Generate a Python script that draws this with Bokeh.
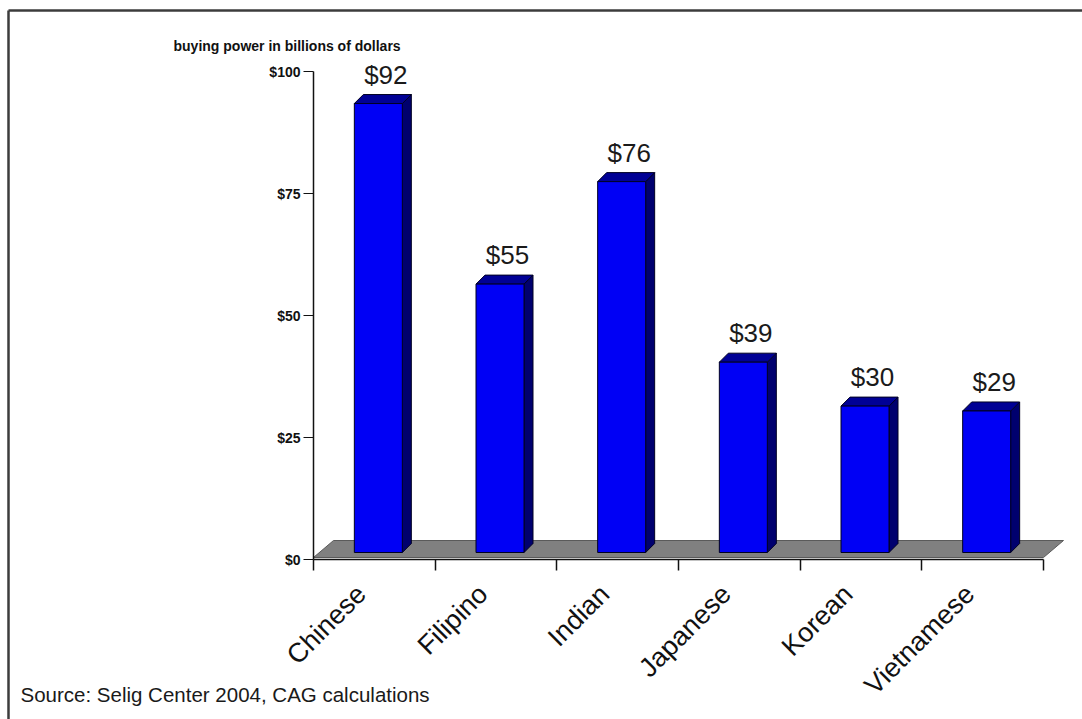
import math
from bokeh.plotting import figure
from bokeh.models import Range1d, FixedTicker, LinearAxis, Label, ColumnDataSource
from bokeh.core.properties import value
from bokeh.embed import file_html
from bokeh.resources import INLINE

# ---------------- data ----------------
categories = ["Chinese", "Filipino", "Indian", "Japanese", "Korean", "Vietnamese"]
buying_power = [92, 55, 76, 39, 30, 29]
value_labels = ["$92", "$55", "$76", "$39", "$30", "$29"]
y_ticks = [0, 25, 50, 75, 100]
y_tick_labels = ["$0", "$25", "$50", "$75", "$100"]
y_title = "buying power in billions of dollars"
source_note = "Source: Selig Center 2004, CAG calculations"

# ---------------- layout constants (pixels) ----------------
W, H = 1082, 719
X0_PX, XN_PX = 313, 1043      # pixel of x=0 and x=len(categories)
Y0_PX, Y100_PX = 559, 71      # pixel of $0 and $100

n = len(categories)
px_x = (XN_PX - X0_PX) / n
px_y = (Y0_PX - Y100_PX) / 100.0


def dx(p):
    return p / px_x


def dy(p):
    return p / px_y


def sx(px):  # canvas pixel -> data x
    return (px - X0_PX) / px_x


def sy(px):  # canvas pixel -> data y
    return (Y0_PX - px) / px_y


p = figure(width=W, height=H, output_backend="svg", toolbar_location=None,
           x_range=Range1d(sx(0), sx(W)),
           y_range=Range1d(sy(H), sy(0)),
           x_axis_type=None, y_axis_type=None,
           min_border=0, min_border_left=0, min_border_right=0,
           min_border_top=0, min_border_bottom=0)
p.outline_line_color = None
p.background_fill_color = "white"
p.border_fill_color = "white"

FONT = "Liberation Sans"

# ---------------- axes (placed inside the frame at x=0 / y=0) ----------------
yaxis = LinearAxis(ticker=FixedTicker(ticks=y_ticks), fixed_location=0,
                   major_label_overrides={t: l for t, l in zip(y_ticks, y_tick_labels)})
yaxis.axis_line_color = None
yaxis.major_tick_out = 10
yaxis.major_tick_in = 0
yaxis.major_tick_line_color = "#111111"
yaxis.major_tick_line_width = 1.2
yaxis.minor_tick_line_color = None
yaxis.major_label_text_font = FONT
yaxis.major_label_text_font_size = "14px"
yaxis.major_label_text_font_style = "bold"
yaxis.major_label_text_color = "#111111"
yaxis.major_label_standoff = 3
p.add_layout(yaxis, "left")

centers = [i + 0.5 for i in range(n)]
bounds = list(range(n + 1))
LABEL_SHIFT = 13  # px: rotated labels sit a little left of the slot centre
label_pos = [c - dx(LABEL_SHIFT) for c in centers]
xaxis = LinearAxis(ticker=FixedTicker(ticks=label_pos, minor_ticks=bounds), fixed_location=0,
                   major_label_overrides={c: lab for c, lab in zip(label_pos, categories)})
xaxis.axis_line_color = None
xaxis.major_tick_line_color = None
xaxis.minor_tick_out = 11
xaxis.minor_tick_in = 0
xaxis.minor_tick_line_color = "#111111"
xaxis.minor_tick_line_width = 1.5
xaxis.major_label_orientation = math.pi / 4
xaxis.major_label_text_font = FONT
xaxis.major_label_text_font_size = "27px"
xaxis.major_label_text_color = "#111111"
xaxis.major_label_standoff = 19
p.add_layout(xaxis, "below")

# ---------------- floor ----------------
FLOOR_DX, FLOOR_DY, FLOOR_FRONT = 20, 17, 2
p.patch([bounds[0], bounds[-1], bounds[-1] + dx(FLOOR_DX), bounds[0] + dx(FLOOR_DX)],
        [dy(FLOOR_FRONT), dy(FLOOR_FRONT), dy(FLOOR_FRONT + FLOOR_DY), dy(FLOOR_FRONT + FLOOR_DY)],
        fill_color="#808080", line_color="#5a5a5a", line_width=1)

# axis lines
p.segment(x0=[bounds[0], bounds[0]], y0=[y_ticks[0], y_ticks[0]],
          x1=[bounds[-1], bounds[0]], y1=[y_ticks[0], y_ticks[-1]],
          line_color="#111111", line_width=1.5)

# ---------------- 3D bars ----------------
BAR_W, BAR_SHIFT, BAR_LIFT, DEPTH_X, DEPTH_Y = 48, 4, 7, 9, 9
lefts = [c + dx(BAR_SHIFT) - dx(BAR_W) / 2 for c in centers]
rights = [c + dx(BAR_SHIFT) + dx(BAR_W) / 2 for c in centers]
bottoms = [dy(BAR_LIFT)] * n
tops = [v + dy(BAR_LIFT) for v in buying_power]

top_xs = [[l, r, r + dx(DEPTH_X), l + dx(DEPTH_X)] for l, r in zip(lefts, rights)]
top_ys = [[t, t, t + dy(DEPTH_Y), t + dy(DEPTH_Y)] for t in tops]
side_xs = [[r, r + dx(DEPTH_X), r + dx(DEPTH_X), r] for r in rights]
side_ys = [[b, b + dy(DEPTH_Y), t + dy(DEPTH_Y), t] for b, t in zip(bottoms, tops)]

p.patches(side_xs, side_ys, fill_color="#00006e", line_color="#000022", line_width=1)
p.patches(top_xs, top_ys, fill_color="#000095", line_color="#000022", line_width=1)
p.quad(left=lefts, right=rights, bottom=bottoms, top=tops,
       fill_color="#0000f5", line_color="#000022", line_width=1)

# value labels
src = ColumnDataSource(dict(
    x=[c + dx(BAR_SHIFT) + dx(DEPTH_X) / 2 + dx(3) for c in centers],
    y=[t + dy(DEPTH_Y) + dy(20) for t in tops],
    text=value_labels))
p.text(x="x", y="y", text="text", source=src, text_font=value(FONT),
       text_font_size="26px", text_align="center", text_baseline="alphabetic",
       text_color="#1a1a1a")

# ---------------- texts & picture frame ----------------
p.add_layout(Label(x=sx(173), y=sy(53), text=y_title, text_font=FONT,
                   text_font_size="14px", text_font_style="bold", text_color="#111111"))
p.add_layout(Label(x=sx(20), y=sy(705), text=source_note, text_font=FONT,
                   text_font_size="20.5px", text_color="#1a1a1a"))
# top and left edges of the picture frame
p.segment(x0=[sx(8), sx(8)], y0=[sy(10), sy(10)], x1=[sx(W + 20), sx(8)], y1=[sy(10), sy(H + 20)],
          line_color="#3c3c3c", line_width=2.5)

open("out.html", "w").write(file_html(p, INLINE))
